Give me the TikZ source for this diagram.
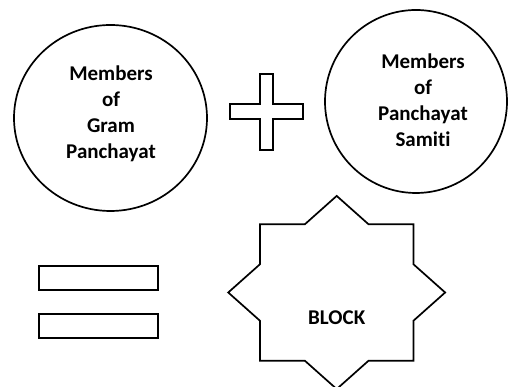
\documentclass[tikz,border=0pt]{standalone}
\usepackage{fontspec}
\setmainfont[Ligatures=CommonOff]{Carlito}
\begin{document}
\begin{tikzpicture}[x=1pt,y=1pt,
  outline/.style={draw=black,line width=1.7pt,line join=miter},
  label/.style={font=\bfseries\fontsize{21}{26}\selectfont,align=center,inner sep=0pt}]
\useasboundingbox (0,0) rectangle (512,387);
% two membership circles
\draw[outline] (110.5,269) ellipse [x radius=96.5,y radius=93];
\node[label] (gram) at (111,273) {Members\\of\\Gram\\Panchayat};
\draw[outline] (416,285.5) ellipse [x radius=91,y radius=91.5];
\node[label] (samiti) at (423,287) {Members\\of\\Panchayat\\Samiti};
% plus sign
\draw[outline] (260,313) -- (273,313) -- (273,283) -- (303,283) -- (303,268)
  -- (273,268) -- (273,237) -- (260,237) -- (260,268) -- (230,268)
  -- (230,283) -- (260,283) -- cycle;
% equals sign
\draw[outline] (38.7,97) rectangle (158,121);
\draw[outline] (38.7,49.3) rectangle (158,73);
% eight-pointed star
\begin{scope}[shift={(336.7,94.5)},xscale=76.7,yscale=68.3]
\draw[outline] (0,1.414) -- (0.414,1) -- (1,1) -- (1,0.414) -- (1.414,0)
  -- (1,-0.414) -- (1,-1) -- (0.414,-1) -- (0,-1.414) -- (-0.414,-1)
  -- (-1,-1) -- (-1,-0.414) -- (-1.414,0) -- (-1,0.414) -- (-1,1)
  -- (-0.414,1) -- cycle;
\end{scope}
\node[label] (block) at (336.7,69.3) {BLOCK};
\end{tikzpicture}
\end{document}
